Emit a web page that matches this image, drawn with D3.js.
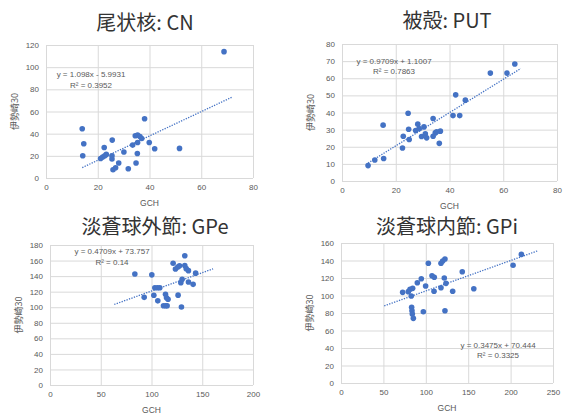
<!DOCTYPE html>
<html><head><meta charset="utf-8">
<script src="https://cdn.jsdelivr.net/npm/d3@7"></script>
<style>body{margin:0;background:#fff}svg{display:block}</style>
</head><body>
<script>
// ---- data ----
const titles = ["尾状核: CN", "被殻: PUT", "淡蒼球外節: GPe", "淡蒼球内節: GPi"];
const xLabel = "GCH";
const yLabel = "伊勢崎30";

const cnX = [14.0,14.6,14.2,22.5,25.6,21.1,21.9,22.7,23.3,25.5,25.5,28.1,25.9,26.9,30.1,31.8,33.5,35.3,34.8,35.4,34.5,35.4,36.3,37.0,38.1,39.9,42.0,51.6,68.8];
const cnY = [44.4,30.9,20.1,27.5,34.2,17.6,18.9,20.1,21.3,20.1,17.1,13.5,7.5,9.3,23.4,8.4,29.7,22.1,13.5,32.0,38.1,38.7,37.4,35.6,53.4,32.0,26.4,26.7,114.0];

const putX = [9.7,12.2,15.3,15.5,22.5,22.8,24.6,24.8,25.0,27.4,28.2,28.7,29.6,30.5,31.0,31.5,33.9,33.9,34.7,35.2,36.2,36.6,41.3,42.3,43.8,45.9,55.2,61.4,64.3];
const putY = [9.0,12.3,32.6,13.1,19.3,26.1,39.6,30.2,24.2,29.5,33.2,30.6,26.0,31.6,27.5,25.2,36.5,26.1,28.1,28.7,22.0,29.1,38.2,50.3,38.2,47.2,63.0,63.0,68.3];

const gpeX = [83.6,100.3,92.8,102.3,103.3,105.9,108.2,106.2,111.8,114.1,115.4,113.8,114.8,116.3,121.3,123.6,125.9,127.6,126.2,129.5,128.9,130.2,132.8,132.8,134.2,136.4,136.4,141.0,143.5];
const gpeY = [142.7,141.6,112.7,115.3,125.1,125.1,125.1,108.2,101.8,101.8,101.8,116.6,112.2,110.2,156.5,149.1,151.7,153.4,115.5,100.2,131.6,135.9,166.2,153.6,149.6,147.0,132.4,129.4,143.8];

const gpiX = [72.7,79.4,81.4,84.5,82.9,83.3,83.7,84.1,85.3,90.0,94.7,99.8,97.1,103.0,107.3,110.0,109.7,117.9,117.9,119.9,122.6,121.8,123.8,122.6,131.7,143.0,156.6,202.9,212.7];
const gpiY = [103.6,104.4,107.1,108.2,99.4,86.5,82.6,78.9,73.9,114.6,119.2,110.9,81.5,136.8,122.6,120.8,104.8,108.9,136.8,139.4,141.7,120.0,113.9,82.6,104.8,127.2,107.8,134.5,147.0];

// trendline: slope, intercept, x-range
const trendSlope = [1.098, 0.9709, 0.4709, 0.3475];
const trendIntercept = [-5.9931, 1.1007, 73.757, 70.444];
const trendFrom = [14.0, 9.7, 63.3, 51.0];
const trendTo = [72.0, 66.5, 160.7, 232.0];
const eqTexts = ["y = 1.098x - 5.9931", "y = 0.9709x + 1.1007", "y = 0.4709x + 73.757", "y = 0.3475x + 70.444"];
const r2Texts = ["R² = 0.3952", "R² = 0.7863", "R² = 0.14", "R² = 0.3325"];

const xTicks = [[0,20,40,60,80],[0,20,40,60,80],[0,50,100,150,200],[0,50,100,150,200,250]];
const yTicks = [[0,20,40,60,80,100,120],[0,10,20,30,40,50,60,70,80],[0,20,40,60,80,100,120,140,160,180],[0,20,40,60,80,100,120,140,160]];

// ---- layout ----
const W = 563, H = 414;
const layout = [
  {l:46, r:253, t:45, b:178, tx:145, ty:30, ex:91, ey:77, rx:91, ry:88},
  {l:342, r:557, t:44, b:181, tx:447, ty:28, ex:394, ey:64, rx:394, ry:74},
  {l:50, r:253, t:245, b:385, tx:155, ty:234, ex:112, ey:254, rx:112, ry:265},
  {l:341, r:553, t:243, b:383, tx:447, ty:234, ex:498, ey:348, rx:498, ry:358}
];
const xsAll = [cnX, putX, gpeX, gpiX];
const ysAll = [cnY, putY, gpeY, gpiY];

const svg = d3.select("body").append("svg").attr("width", W).attr("height", H);
const blue = "#4472C4";
const grid = "#d9d9d9";
const tickCol = "#595959";
const tickFont = "'Liberation Sans', Arial, sans-serif";

layout.forEach((L, i) => {
  const xt = xTicks[i], yt = yTicks[i];
  const x = d3.scaleLinear().domain([xt[0], xt[xt.length-1]]).range([L.l, L.r]);
  const y = d3.scaleLinear().domain([yt[0], yt[yt.length-1]]).range([L.b, L.t]);
  const g = svg.append("g");

  // gridlines via axes
  g.append("g").attr("transform", `translate(0,${L.b})`)
    .call(d3.axisBottom(x).tickValues(xt).tickSize(-(L.b - L.t)).tickFormat(d => d).tickPadding(6))
    .call(s => s.select(".domain").remove())
    .call(s => s.selectAll("line").attr("stroke", grid).attr("stroke-width", 1))
    .call(s => s.selectAll("text").attr("fill", tickCol).attr("font-size", 8).attr("font-family", tickFont));
  g.append("g").attr("transform", `translate(${L.l},0)`)
    .call(d3.axisLeft(y).tickValues(yt).tickSize(-(L.r - L.l)).tickFormat(d => d).tickPadding(7))
    .call(s => s.select(".domain").remove())
    .call(s => s.selectAll("line").attr("stroke", grid).attr("stroke-width", 1))
    .call(s => s.selectAll("text").attr("fill", tickCol).attr("font-size", 8).attr("font-family", tickFont));

  // trendline
  const tx = [trendFrom[i], trendTo[i]];
  g.append("line")
    .attr("x1", x(tx[0])).attr("y1", y(trendSlope[i]*tx[0] + trendIntercept[i]))
    .attr("x2", x(tx[1])).attr("y2", y(trendSlope[i]*tx[1] + trendIntercept[i]))
    .attr("stroke", blue).attr("stroke-width", 1.3).attr("stroke-dasharray", "1.3,1.3");

  // points
  const pts = xsAll[i].map((v, k) => [v, ysAll[i][k]]);
  g.selectAll("circle.pt").data(pts).enter().append("circle")
    .attr("cx", d => x(d[0])).attr("cy", d => y(d[1])).attr("r", 2.8).attr("fill", blue);

  // equation
  g.append("text").attr("x", L.ex).attr("y", L.ey).attr("text-anchor", "middle")
    .attr("font-size", 8).attr("font-family", tickFont).attr("fill", tickCol).text(eqTexts[i]);
  g.append("text").attr("x", L.rx).attr("y", L.ry).attr("text-anchor", "middle")
    .attr("font-size", 8).attr("font-family", tickFont).attr("fill", tickCol).text(r2Texts[i]);

  // title
  g.append("text").attr("x", L.tx).attr("y", L.ty).attr("text-anchor", "middle")
    .attr("font-size", 20).attr("font-family", "'Noto Sans CJK JP', sans-serif").attr("fill", "#333").text(titles[i]);

  // axis titles
  g.append("text").attr("x", (L.l + L.r)/2).attr("y", L.b + 28).attr("text-anchor", "middle")
    .attr("font-size", 8.5).attr("font-family", tickFont).attr("fill", tickCol).text(xLabel);
  const yx = L.l - 31, yy = (L.t + L.b)/2;
  g.append("text").attr("transform", `translate(${yx},${yy}) rotate(-90)`).attr("text-anchor", "middle")
    .attr("dy", "0.35em")
    .attr("font-size", 9).attr("font-family", "'Noto Sans CJK JP', sans-serif").attr("fill", tickCol).text(yLabel);
});
</script>
</body></html>
